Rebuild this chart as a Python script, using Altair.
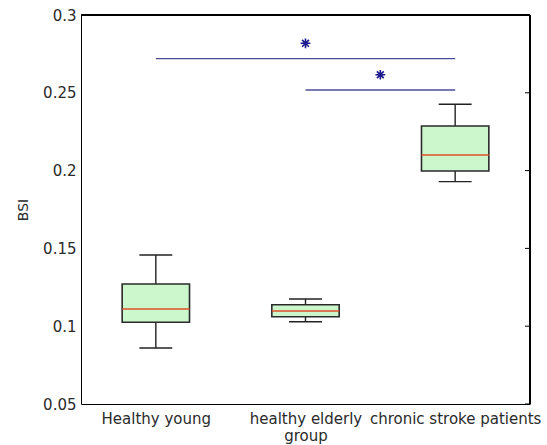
import altair as alt
import pandas as pd

# ---- data ----
groups = ["Healthy young", "healthy elderly|group", "chronic stroke patients"]
positions = [1, 2, 3]
upper = [0.1458, 0.1175, 0.2426]
q3 = [0.1271, 0.1138, 0.2287]
median = [0.1111, 0.1098, 0.2100]
q1 = [0.1025, 0.1061, 0.1997]
lower = [0.0860, 0.1029, 0.1929]

sig_start = [1, 2]
sig_end = [3, 3]
sig_y = [0.2719, 0.2518]
star_x = [2, 2.5]
star_y = [0.2818, 0.2616]

y_ticks = [0.05, 0.1, 0.15, 0.2, 0.25, 0.3]

W, H = 449, 389

box = pd.DataFrame({"pos": positions, "group": groups, "upper": upper,
                    "q3": q3, "median": median, "q1": q1, "lower": lower})
sig = pd.DataFrame({"x1": sig_start, "x2": sig_end, "y": sig_y})
stars = pd.DataFrame({"x": star_x, "y": star_y})
ticks = pd.DataFrame({"v": y_ticks})

# x-axis label expression built from the group names
parts = []
for p, g in zip(positions, groups):
    lines = g.split("|")
    if len(lines) > 1:
        lab = "[" + ",".join("'" + s + "'" for s in lines) + "]"
    else:
        lab = "'" + lines[0] + "'"
    parts.append((p, lab))
label_expr = ""
for p, lab in parts[:-1]:
    label_expr += f"datum.value == {p} ? {lab} : "
label_expr += f"datum.value == {parts[-1][0]} ? {parts[-1][1]} : ''"

xscale = alt.Scale(domain=[0.5, 3.5], nice=False, zero=False)
yscale = alt.Scale(domain=[0.05, 0.3], nice=False, zero=False)

font = "DejaVu Sans"

xaxis = alt.Axis(values=positions, labelExpr=label_expr, title=None, grid=False,
                 ticks=False, labelFont=font, labelFontSize=15, labelColor="#2a2a2a",
                 labelPadding=7, domainColor="black", domainWidth=1, labelLineHeight=17)
yaxis = alt.Axis(values=y_ticks, format="~g", title="BSI", grid=False, ticks=False,
                 labelFont=font, labelFontSize=15, labelColor="#2a2a2a", labelPadding=5,
                 titleFont=font, titleFontSize=14, titleFontWeight="normal",
                 titleColor="#2a2a2a", titlePadding=12, domainColor="black", domainWidth=1)

base = alt.Chart(box).transform_calculate(
    xlo="datum.pos - 0.225", xhi="datum.pos + 0.225",
    clo="datum.pos - 0.11", chi="datum.pos + 0.11")

whisk_up = base.mark_rule(color="#222", strokeWidth=1.4).encode(
    x=alt.X("pos:Q", scale=xscale, axis=xaxis),
    y=alt.Y("q3:Q", scale=yscale, axis=yaxis), y2="upper:Q")
whisk_lo = base.mark_rule(color="#222", strokeWidth=1.4).encode(
    x="pos:Q", y="lower:Q", y2="q1:Q")
cap_up = base.mark_rule(color="#222", strokeWidth=1.4).encode(
    x="clo:Q", x2="chi:Q", y="upper:Q")
cap_lo = base.mark_rule(color="#222", strokeWidth=1.4).encode(
    x="clo:Q", x2="chi:Q", y="lower:Q")
boxes = base.mark_rect(fill="#ccf7cc", stroke="#2a2a2a", strokeWidth=1.6).encode(
    x="xlo:Q", x2="xhi:Q", y="q1:Q", y2="q3:Q")
med = base.mark_rule(color="#e0502a", strokeWidth=1.5).encode(
    x="xlo:Q", x2="xhi:Q", y="median:Q")

sig_lines = alt.Chart(sig).mark_rule(color="#4b4b98", strokeWidth=1.3).encode(
    x="x1:Q", x2="x2:Q", y="y:Q")
star_pts = alt.Chart(stars).mark_point(
    shape="M-1,0L1,0M0,-1L0,1M-0.7,-0.7L0.7,0.7M-0.7,0.7L0.7,-0.7",
    filled=False, color="#1a1a8c", strokeWidth=1.6, size=95, opacity=1).encode(
    x="x:Q", y="y:Q")

right_ticks = alt.Chart(ticks).mark_rule(color="black", strokeWidth=1).encode(
    x=alt.value(W - 5), x2=alt.value(W), y="v:Q")
top_border = alt.Chart(ticks).mark_rule(color="black", strokeWidth=2).encode(
    x=alt.value(0), x2=alt.value(W), y=alt.value(0))
right_border = alt.Chart(ticks).mark_rule(color="black", strokeWidth=2).encode(
    x=alt.value(W), y=alt.value(0), y2=alt.value(H))

chart = alt.layer(
    whisk_up, whisk_lo, cap_up, cap_lo, boxes, med, sig_lines, star_pts,
    right_ticks, top_border, right_border
).properties(
    width=W, height=H,
    autosize=alt.AutoSizeParams(type="none"),
    padding={"left": 81, "top": 15, "right": 17, "bottom": 41},
    background="white",
).configure_view(stroke=None)

chart.save("out.html", embed_options={"renderer": "svg", "actions": False})
